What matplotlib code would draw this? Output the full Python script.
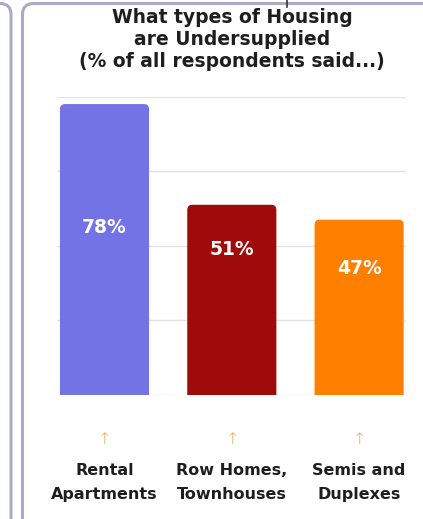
import matplotlib.pyplot as plt
from matplotlib.patches import FancyBboxPatch
from matplotlib.lines import Line2D

# data
categories = ["Rental\nApartments", "Row Homes,\nTownhouses", "Semis and\nDuplexes"]
values = [78, 51, 47]
label_pos = [45, 39, 34]  # where the % labels sit inside the bars
colors = ["#7373E6", "#A00A0A", "#FF8000"]

plt.rcParams['font.family'] = ['DejaVu Sans']

W, H = 423, 519
fig = plt.figure(figsize=(W / 100, H / 100), dpi=100, facecolor="white")

# panel frames (figure pixel coords)
border = "#ABABC9"
fig.patches.append(FancyBboxPatch((22.5, -40), 440, H - 3.5 + 40,
                                  boxstyle="round,pad=0,rounding_size=11",
                                  transform=None, fill=False, ec=border, lw=2.2))
fig.patches.append(FancyBboxPatch((-40, -40), 51, H - 3.5 + 40,
                                  boxstyle="round,pad=0,rounding_size=11",
                                  transform=None, fill=False, ec=border, lw=2.2))
fig.lines.append(Line2D([287, 287], [H, H - 7], transform=None, color="#333333", lw=1.2))

ax = fig.add_axes([57.4 / W, 124 / H, 348.8 / W, 298.4 / H])
x = range(len(values))
bars = ax.bar(x, values, width=0.7, color=colors, zorder=3)

# rounded tops on the bars (bottom corners fall below the axis and are clipped)
for b, c in zip(bars, colors):
    b.set_visible(False)
    ax.add_patch(FancyBboxPatch((b.get_x(), -5), b.get_width(), b.get_height() + 5,
                                boxstyle="round,pad=0,rounding_size=0.04",
                                mutation_aspect=34.1, fc=c, ec="none", zorder=3))

for i, (v, p) in enumerate(zip(values, label_pos)):
    ax.text(i, p, f"{v}%", ha="center", va="center", color="white",
            fontsize=13.5, fontweight="bold", zorder=4)

ax.set_xlim(-0.37, 2.37)
ax.set_ylim(0, 80)
ax.set_yticks([0, 20, 40, 60, 80])
ax.yaxis.grid(True, color="#E4E4E8", lw=1, zorder=0)
ax.tick_params(left=False, labelleft=False, bottom=False, labelbottom=False)
for s in ax.spines.values():
    s.set_visible(False)

# arrows and category labels under the bars
for i, cat in enumerate(categories):
    ax.text(i, -12, "\u2191", ha="center", va="center", color="#F5A55C",
            fontsize=11.5, fontweight="light")
    ax.text(i, -23.4, cat, ha="center", va="center", color="#1E1E1E",
            fontsize=11.5, fontweight="bold", linespacing=1.75)

fig.text(232 / W, 1 - 39.5 / H,
         "What types of Housing\nare Undersupplied\n(% of all respondents said...)",
         ha="center", va="center", fontsize=13.5, fontweight="bold",
         color="#1E1E1E", linespacing=1.2)

fig.savefig("out.png", dpi=100)
